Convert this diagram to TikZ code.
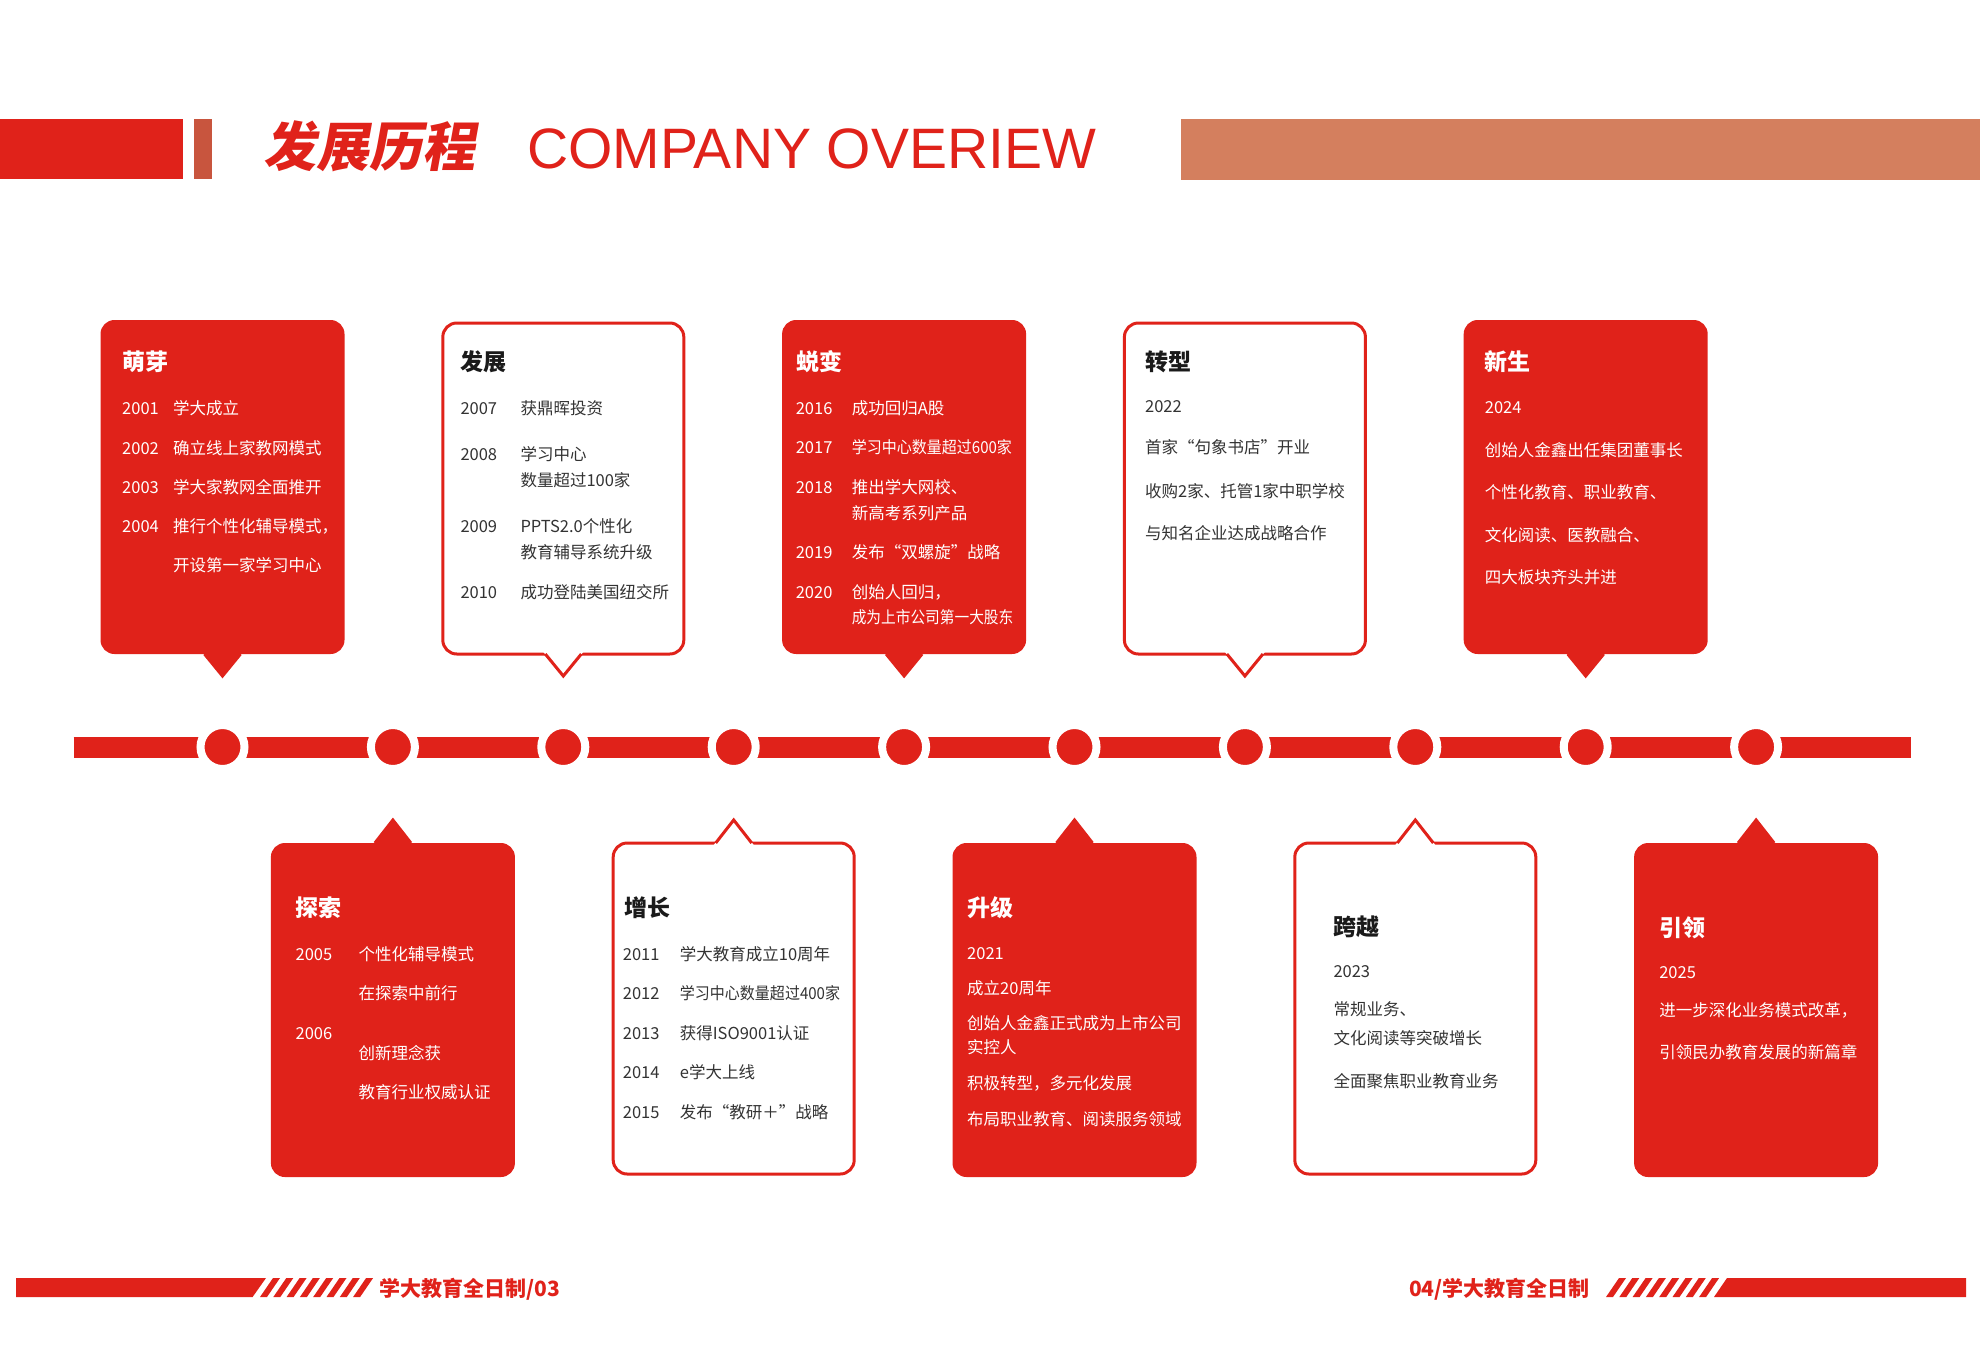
\documentclass[tikz,border=0pt]{standalone}
\usepackage{fontspec}
\usepackage{graphicx}
\setmainfont{Noto Sans CJK SC}
\newfontfamily\headcn{Noto Sans CJK SC}[FakeSlant=0.18]
\newfontfamily\headen{Liberation Sans}
\usepackage{tikz}
\usetikzlibrary{positioning}
\definecolor{BrandRed}{HTML}{E0221A}
\definecolor{RustBar}{HTML}{C8553E}
\definecolor{ClayBar}{HTML}{D47F5E}
\definecolor{InkDark}{HTML}{1A1A1A}
\definecolor{InkGray}{HTML}{333333}

\newcommand{\cardlines}[5]{%
  \foreach \dy/\yr/\tx [count=\idx] in {#5}
    \node[#4] (#1-\idx) at ([shift={(#2,\dy)}]#1.north west) {\makebox[#3pt][l]{\yr}\tx};
}
\newcommand{\tipdown}[2]{%
  \fill[#2] ([xshift=-20pt,yshift=2pt]#1.south) -- ([yshift=-22pt]#1.south) -- ([xshift=20pt,yshift=2pt]#1.south) -- cycle;
  \draw[BrandRed, line width=3pt] ([xshift=-18pt]#1.south) -- ([yshift=-22pt]#1.south) -- ([xshift=18pt]#1.south);
}
\newcommand{\tipup}[2]{%
  \fill[#2] ([xshift=-20pt,yshift=-2pt]#1.north) -- ([yshift=23pt]#1.north) -- ([xshift=20pt,yshift=-2pt]#1.north) -- cycle;
  \draw[BrandRed, line width=3pt] ([xshift=-18pt]#1.north) -- ([yshift=23pt]#1.north) -- ([xshift=18pt]#1.north);
}

\begin{document}
\begin{tikzpicture}[x=1pt, y=-1pt,
    tldot/.style={circle, fill=BrandRed, draw=white, line width=8pt, minimum size=44pt, inner sep=0pt, outer sep=0pt},
    cardfill/.style={rectangle, rounded corners=14pt, fill=BrandRed, minimum width=244pt, minimum height=334pt, inner sep=0pt, outer sep=0pt},
    cardline/.style={rectangle, rounded corners=14pt, fill=white, draw=BrandRed, line width=3pt, minimum width=241pt, minimum height=331pt, inner sep=0pt, outer sep=0pt},
    entry/.style={anchor=base west, inner sep=0pt, font=\fontsize{16.5}{20}\selectfont},
    entryw/.style={entry, text=white},
    entryd/.style={entry, text=InkGray},
    ttl/.style={anchor=base west, inner sep=0pt, font=\fontsize{23}{28}\selectfont\bfseries},
    ttlw/.style={ttl, text=white},
    ttld/.style={ttl, text=InkDark},
    foot/.style={inner sep=0pt, text=BrandRed, font=\fontsize{21}{24}\selectfont\bfseries},
    rail/.style={line width=21pt, draw=BrandRed}
  ]
    \useasboundingbox (0,0) rectangle (1980,1352);
    \fill[white] (0,0) rectangle (1980,1352);

    \fill[BrandRed] (0,119) rectangle (183,179);
    \fill[RustBar] (194,119) rectangle (211.5,179);
    \fill[ClayBar] (1181,119) rectangle (1980,180);
    \node[anchor=base west, inner sep=0pt, text=BrandRed, font=\headcn\fontsize{53}{60}\selectfont\bfseries] (hd-cn) at (263,166) {发展历程};
    \node[anchor=base west, inner sep=0pt, text=BrandRed, font=\headen\fontsize{57}{64}\selectfont] (hd-en) at (527,168) {COMPANY OVERIEW};

    \coordinate (tl-a) at (73.5,747);
    \coordinate (tl-b) at (1911,747);
    \draw[rail] (tl-a) -- (tl-b);
    \foreach \i in {1,...,10}
      \node[tldot] (d\i) at ({222.5+170.4*(\i-1)},747) {};

    \foreach \dn/\cn/\sty/\tipc in {1/c1/cardfill/BrandRed, 3/c2/cardline/white, 5/c3/cardfill/BrandRed, 7/c4/cardline/white, 9/c5/cardfill/BrandRed}{
      \node[\sty, above=71pt of d\dn] (\cn) {};
      \tipdown{\cn}{\tipc}
    }
    \foreach \dn/\cn/\sty/\tipc in {2/b1/cardfill/BrandRed, 4/b2/cardline/white, 6/b3/cardfill/BrandRed, 8/b4/cardline/white, 10/b5/cardfill/BrandRed}{
      \node[\sty, below=74pt of d\dn] (\cn) {};
      \tipup{\cn}{\tipc}
    }

    \node[ttlw] (c1-t) at ([shift={(21.5,50.7)}]c1.north west) {萌芽};
    \cardlines{c1}{21.5}{51}{entryw}{94/2001/学大成立, 134/2002/确立线上家教网模式, 173/2003/学大家教网全面推开, 212/2004/推行个性化辅导模式，, 251/{}/开设第一家学习中心}

    \node[ttld] (c2-t) at ([shift={(17.5,47.7)}]c2.north west) {发展};
    \cardlines{c2}{17.5}{60}{entryd}{91/2007/获鼎晖投资, 137/2008/学习中心, 163/{}/数量超过100家, 209/2009/PPTS2.0个性化, 235/{}/教育辅导系统升级, 275/2010/成功登陆美国纽交所}

    \node[ttlw] (c3-t) at ([shift={(14,50.7)}]c3.north west) {蜕变};
    \cardlines{c3}{13.5}{56}{entryw}{94/2016/成功回归A股, 133/2017/\scalebox{0.91}[1]{学习中心数量超过600家}, 173/2018/推出学大网校、, 199/{}/新高考系列产品, 238/2019/发布“双螺旋”战略, 278/2020/创始人回归，, 303/{}/\scalebox{0.89}[1]{成为上市公司第一大股东}}

    \node[ttld] (c4-t) at ([shift={(20.5,47.7)}]c4.north west) {转型};
    \cardlines{c4}{20.5}{0}{entryd}{89/{}/2022, 130/{}/首家“句象书店”开业, 174/{}/收购2家、托管1家中职学校, 216/{}/与知名企业达成战略合作}

    \node[ttlw] (c5-t) at ([shift={(21,50.7)}]c5.north west) {新生};
    \cardlines{c5}{21}{0}{entryw}{93/{}/2024, 136/{}/创始人金鑫出任集团董事长, 178/{}/个性化教育、职业教育、, 221/{}/文化阅读、医教融合、, 263/{}/四大板块齐头并进}

    \node[ttlw] (b1-t) at ([shift={(24.5,73.7)}]b1.north west) {探索};
    \cardlines{b1}{24.5}{63}{entryw}{117/2005/个性化辅导模式, 156/{}/在探索中前行, 196/2006/{}, 216/{}/创新理念获, 255/{}/教育行业权威认证}

    \node[ttld] (b2-t) at ([shift={(10.8,73.7)}]b2.north west) {增长};
    \cardlines{b2}{9.5}{57}{entryd}{117/2011/学大教育成立10周年, 156/2012/\scalebox{0.91}[1]{学习中心数量超过400家}, 196/2013/获得ISO9001认证, 235/2014/e学大上线, 275/2015/发布“教研＋”战略}

    \node[ttlw] (b3-t) at ([shift={(14.5,73.7)}]b3.north west) {升级};
    \cardlines{b3}{14.5}{0}{entryw}{116/{}/2021, 151/{}/成立20周年, 186/{}/创始人金鑫正式成为上市公司, 210/{}/实控人, 246/{}/积极转型，多元化发展, 282/{}/布局职业教育、阅读服务领域}

    \node[ttld] (b4-t) at ([shift={(38.5,92.7)}]b4.north west) {跨越};
    \cardlines{b4}{38.5}{0}{entryd}{134/{}/2023, 172/{}/常规业务、, 201/{}/文化阅读等突破增长, 244/{}/全面聚焦职业教育业务}

    \node[ttlw] (b5-t) at ([shift={(25,93)}]b5.north west) {引领};
    \cardlines{b5}{25}{0}{entryw}{135/{}/2025, 173/{}/进一步深化业务模式改革，, 215/{}/引领民办教育发展的新篇章}

    \fill[BrandRed] (16,1278) -- (266,1278) -- (252.6,1297) -- (16,1297) -- cycle;
    \foreach \i in {0,...,7}
      \fill[BrandRed] ({260+13.3*\i},1297) -- ++(7,0) -- ++(13,-19) -- ++(-7,0) -- cycle;
    \node[foot, anchor=base west] (ft-l) at (379,1296) {学大教育全日制/03};

    \node[foot, anchor=base east] (ft-r) at (1590,1296) {04/学大教育全日制};
    \foreach \i in {0,...,7}
      \fill[BrandRed] ({1606+13.3*\i},1297) -- ++(7,0) -- ++(13,-19) -- ++(-7,0) -- cycle;
    \fill[BrandRed] (1714,1297) -- (1727,1278) -- (1966,1278) -- (1966,1297) -- cycle;
\end{tikzpicture}
\end{document}
